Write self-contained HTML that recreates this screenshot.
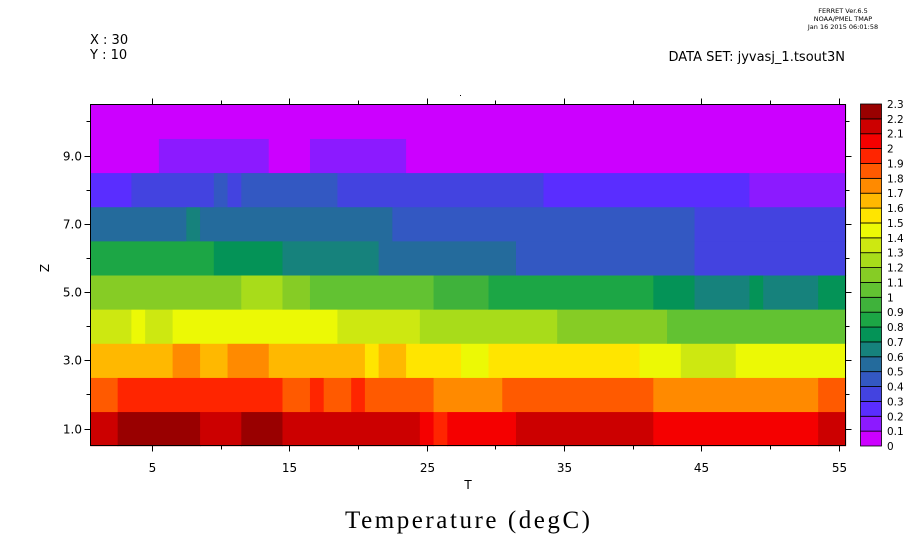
<!DOCTYPE html>
<html><head><style>
html,body{margin:0;padding:0;background:#fff;}
svg{display:block;font-family:"DejaVu Sans","Liberation Sans",sans-serif;}
</style></head><body>
<svg id="s" width="921" height="552" xmlns="http://www.w3.org/2000/svg">
<g id="cells"></g>
<g id="axes" stroke="#000" stroke-width="1" fill="none"></g>
<g id="txt" font-size="12" fill="#000"></g>
<text x="90" y="44" font-size="13">X : 30</text>
<text x="90" y="59" font-size="13">Y : 10</text>
<text x="845" y="61" font-size="13" text-anchor="end">DATA SET: jyvasj_1.tsout3N</text>
<text x="843" y="13" font-size="6.5" text-anchor="middle">FERRET  Ver.6.5</text>
<text x="843" y="21" font-size="6.5" text-anchor="middle">NOAA/PMEL TMAP</text>
<text x="843" y="29" font-size="6.5" text-anchor="middle">Jan 16 2015 06:01:58</text>
<text x="468" y="489" font-size="12" text-anchor="middle">T</text>
<text x="0" y="0" font-size="12" text-anchor="middle" transform="translate(49,268) rotate(-90)">Z</text>
<text x="345" y="528" font-size="25" textLength="245" lengthAdjust="spacing" font-family="Liberation Serif, serif">Temperature (degC)</text>
<rect x="460" y="95" width="1" height="1" fill="#000"/>
</svg>
<script>
var C=["#cc00ff","#8c1aff","#5a2dff","#4343e0","#3358c2","#246b9c","#16827c","#049357","#1ca645","#3fb23b","#62c232","#86cc25","#a8dc1a","#cde811","#ecf905","#ffe500","#ffb800","#ff8a00","#ff5a00","#ff2500","#f50000","#cc0000","#990000"];
var R=[
[[0,21],[2,22],[8,21],[11,22],[14,21],[24,20],[25,19],[26,20],[31,21],[41,20],[53,21]],
[[0,18],[2,19],[14,18],[16,19],[17,18],[19,19],[20,18],[25,17],[30,18],[41,17],[53,18]],
[[0,16],[6,17],[8,16],[10,17],[13,16],[20,15],[21,16],[23,15],[27,14],[29,15],[40,14],[43,13],[47,14]],
[[0,13],[3,14],[4,13],[6,14],[18,13],[24,12],[34,11],[42,10]],
[[0,11],[11,12],[14,11],[16,10],[25,9],[29,8],[41,7],[44,6],[48,7],[49,6],[53,7]],
[[0,8],[9,7],[14,6],[21,5],[31,4],[44,3]],
[[0,5],[7,6],[8,5],[22,4],[44,3]],
[[0,2],[3,3],[9,4],[10,3],[11,4],[18,3],[33,2],[48,1]],
[[0,0],[5,1],[13,0],[16,1],[23,0]],
[[0,0]]];
var NS="http://www.w3.org/2000/svg";
function el(p,t,a){var e=document.createElementNS(NS,t);for(var k in a)e.setAttribute(k,a[k]);p.appendChild(e);return e;}
var X0=90.2,DX=13.735,YB=445.7,DY=34.14;
function xk(k){return X0+DX*k;}
var g=document.getElementById("cells");
R.forEach(function(row,i){
 var yb=YB-DY*i, yt=YB-DY*(i+1);
 row.forEach(function(c,j){
  var e=j+1<row.length?row[j+1][0]:55;
  el(g,"rect",{x:xk(c[0]),y:yt,width:xk(e)-xk(c[0])+0.5,height:yb-yt+0.5,fill:C[c[1]]});
 });
});
var a=document.getElementById("axes"),t=document.getElementById("txt");
el(a,"rect",{x:90.5,y:104.5,width:755,height:341});
for(var T=5;T<=55;T+=5){var x=Math.round(xk(T-0.5))+0.5;var L=(T%10==5)?6:4;
 el(a,"line",{x1:x,y1:445.5,x2:x,y2:445.5+L});el(a,"line",{x1:x,y1:104.5,x2:x,y2:104.5-L});
 if(T%10==5){var tx=el(t,"text",{x:x,y:472,"text-anchor":"middle"});tx.textContent=T;}}
for(var z=1;z<=10;z++){var y=Math.round(YB-DY*(z-0.5))+0.5;var L=(z%2==1)?6:4;
 el(a,"line",{x1:90.5,y1:y,x2:90.5-L,y2:y});el(a,"line",{x1:845.5,y1:y,x2:845.5+L,y2:y});
 if(z%2==1){var tx=el(t,"text",{x:82,y:y+4,"text-anchor":"end"});tx.textContent=z+".0";}}
var cb=document.getElementById("s");var CH=(446-104)/23;
for(var i=0;i<23;i++){var yt=446-CH*(i+1);
 el(cb,"rect",{x:860.5,y:yt,width:21,height:CH,fill:C[i],stroke:"#000","stroke-width":0.8});}
var labs=["0","0.1","0.2","0.3","0.4","0.5","0.6","0.7","0.8","0.9","1","1.1","1.2","1.3","1.4","1.5","1.6","1.7","1.8","1.9","2","2.1","2.2","2.3"];
for(var i=0;i<24;i++){var tx=el(cb,"text",{x:887,y:446-CH*i+4,"font-size":"10.5"});tx.textContent=labs[i];}
</script>
</body></html>
